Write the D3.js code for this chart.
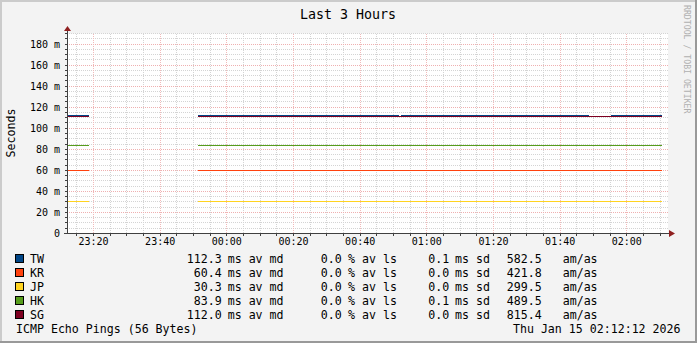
<!DOCTYPE html>
<html>
<head>
<meta charset="utf-8">
<script src="https://cdn.jsdelivr.net/npm/d3@7"></script>
<style>
  body { margin: 0; background: #f3f3f3; }
  svg { display: block; }
  text { font-family: "DejaVu Sans Mono", monospace; fill: #000; }
</style>
</head>
<body>
<script>
// hosts and legend values
var hosts = ["TW", "KR", "JP", "HK", "SG"];
var colors = ["#004586", "#ff420e", "#ffd320", "#579d1c", "#7e0021"];
var medians = [112.3, 60.4, 30.3, 83.9, 112.0];
var losses = [0.0, 0.0, 0.0, 0.0, 0.0];
var stddevs = [0.1, 0.0, 0.0, 0.1, 0.0];
var amas = [582.5, 421.8, 299.5, 489.5, 815.4];

// step boundaries (each value holds from times[i] to times[i+1])
var times = [
  "2026-01-14 23:12:12",
  "2026-01-14 23:18:43",
  "2026-01-14 23:51:30",
  "2026-01-15 00:51:48",
  "2026-01-15 00:52:24",
  "2026-01-15 01:48:48",
  "2026-01-15 01:55:24",
  "2026-01-15 02:10:36"
];
var seriesTW = [112.2, null, 112.2, null, 112.2, null, 112.2];
var seriesKR = [59.9, null, 59.9, 59.9, 59.9, 59.9, 59.9];
var seriesJP = [30.4, null, 30.4, 30.4, 30.4, 30.4, 30.4];
var seriesHK = [83.6, null, 83.6, 83.6, 83.6, 83.6, 83.6];
var seriesSG = [111.4, null, 111.4, 111.4, 111.4, 111.4, 111.4];
var series = [seriesTW, seriesKR, seriesJP, seriesHK, seriesSG];

// axis ticks
var xTickTimes = ["2026-01-14 23:20", "2026-01-14 23:40", "2026-01-15 00:00", "2026-01-15 00:20",
  "2026-01-15 00:40", "2026-01-15 01:00", "2026-01-15 01:20", "2026-01-15 01:40", "2026-01-15 02:00"];
var xTickLabels = ["23:20", "23:40", "00:00", "00:20", "00:40", "01:00", "01:20", "01:40", "02:00"];
var yTicks = [0, 20, 40, 60, 80, 100, 120, 140, 160, 180];
var yTickLabels = ["0", "20 m", "40 m", "60 m", "80 m", "100 m", "120 m", "140 m", "160 m", "180 m"];
var startTime = "2026-01-14 23:12:12", endTime = "2026-01-15 02:12:12";

var W = 697, H = 343;
var parse = d3.timeParse("%Y-%m-%d %H:%M:%S");
var parseMin = d3.timeParse("%Y-%m-%d %H:%M");

var x = d3.scaleTime()
  .domain([parse(startTime), parse(endTime)])
  .range([67, 667]);
var y = d3.scaleLinear()
  .domain([0, 190])
  .range([233.5, 33.5]);

var svg = d3.select("body").append("svg")
  .attr("width", W)
  .attr("height", H);

// background + 3d frame
svg.append("rect").attr("width", W).attr("height", H).attr("fill", "#f3f3f3");
svg.append("path").attr("d", "M0,0H697V2H2V343H0Z").attr("fill", "#cbcbcb");
svg.append("path").attr("d", "M697,0V343H0V341H695V0Z").attr("fill", "#999999");

// canvas
svg.append("rect")
  .attr("x", x.range()[0]).attr("y", y(190))
  .attr("width", x.range()[1] - x.range()[0] + 1)
  .attr("height", y(0) - y(190))
  .attr("fill", "#ffffff");

var grid = svg.append("g").attr("shape-rendering", "crispEdges");

// minor grid
var minorY = d3.range(5, 191, 5).filter(function(v) { return v % 20 != 0; });
grid.selectAll(".hminor").data(minorY).enter().append("line")
  .attr("x1", 67).attr("x2", 668)
  .attr("y1", function(d) { return y(d); }).attr("y2", function(d) { return y(d); })
  .attr("stroke", "#d4d4d4").attr("stroke-dasharray", "1,1");
var minorX = d3.timeMinute.every(5).range(parse(startTime), parse(endTime))
  .filter(function(d) { return d.getMinutes() % 20 != 0; });
grid.selectAll(".vminor").data(minorX).enter().append("line")
  .attr("x1", function(d) { return x(d) + 0.5; }).attr("x2", function(d) { return x(d) + 0.5; })
  .attr("y1", y(190)).attr("y2", y(0))
  .attr("stroke", "#d4d4d4").attr("stroke-dasharray", "1,1");

// major grid
grid.selectAll(".hmajor").data(yTicks.slice(1)).enter().append("line")
  .attr("x1", 67).attr("x2", 668)
  .attr("y1", function(d) { return y(d); }).attr("y2", function(d) { return y(d); })
  .attr("stroke", "#efb0b0").attr("stroke-dasharray", "1,1");
grid.selectAll(".vmajor").data(xTickTimes).enter().append("line")
  .attr("x1", function(d) { return x(parseMin(d)) + 0.5; }).attr("x2", function(d) { return x(parseMin(d)) + 0.5; })
  .attr("y1", y(190)).attr("y2", y(0))
  .attr("stroke", "#f1baba").attr("stroke-dasharray", "1,1");

// data lines
var line = d3.line()
  .x(function(d) { return x(d.t); })
  .y(function(d) { return y(d.v); });

var lines = svg.append("g").attr("shape-rendering", "crispEdges");
series.forEach(function(vals, k) {
  vals.forEach(function(v, i) {
    if (v == null) return;
    var seg = [{t: parse(times[i]), v: v}, {t: parse(times[i + 1]), v: v}];
    lines.append("path")
      .attr("d", line(seg))
      .attr("fill", "none")
      .attr("stroke", colors[k])
      .attr("stroke-width", 1);
  });
});

// axes
var axis = svg.append("g").attr("shape-rendering", "crispEdges").attr("stroke", "#404040");
axis.append("line").attr("x1", 67.5).attr("x2", 67.5).attr("y1", y(0)).attr("y2", 30);
axis.append("line").attr("x1", 64).attr("x2", 670).attr("y1", y(0)).attr("y2", y(0));
// small tick marks
axis.selectAll(".yt").data(d3.range(0, 191, 5)).enter().append("line")
  .attr("x1", 65).attr("x2", 67)
  .attr("y1", function(d) { return y(d); }).attr("y2", function(d) { return y(d); });
axis.selectAll(".xt").data(d3.timeMinute.every(5).range(parse(startTime), parse(endTime))).enter().append("line")
  .attr("x1", function(d) { return x(d) + 0.5; }).attr("x2", function(d) { return x(d) + 0.5; })
  .attr("y1", 234).attr("y2", 236);

// arrows
svg.append("path").attr("d", "M64,31L71,31L67.5,26Z").attr("fill", "#8f1f1f");
svg.append("path").attr("d", "M669,230L669,237L675,233.5Z").attr("fill", "#8f1f1f");

// tick labels
svg.selectAll(".ylab").data(yTicks).enter().append("text")
  .attr("x", 60)
  .attr("y", function(d) { return y(d) + 3.5; })
  .attr("text-anchor", "end")
  .attr("font-size", "10px")
  .text(function(d, i) { return yTickLabels[i]; });

svg.selectAll(".xlab").data(xTickTimes).enter().append("text")
  .attr("x", function(d) { return x(parseMin(d)) + 0.5; })
  .attr("y", 245)
  .attr("text-anchor", "middle")
  .attr("font-size", "10px")
  .text(function(d, i) { return xTickLabels[i]; });

// title and axis label
svg.append("text")
  .attr("x", 348).attr("y", 18.5)
  .attr("text-anchor", "middle")
  .attr("font-size", "13.3px")
  .text("Last 3 Hours");

svg.append("text")
  .attr("transform", "translate(15,133) rotate(-90)")
  .attr("text-anchor", "middle")
  .attr("font-size", "11.6px")
  .text("Seconds");

svg.append("text")
  .attr("transform", "translate(683.5,5) rotate(90)")
  .attr("font-size", "8.2px")
  .style("fill", "#b0b0b0")
  .text("RRDTOOL / TOBI OETIKER");

// legend
var fmt = d3.format(".1f");
var rowY = function(i) { return 263.3 + i * 14; };
var leg = svg.append("g").attr("font-size", "11.6px");
hosts.forEach(function(h, i) {
  leg.append("rect")
    .attr("x", 15.5).attr("y", rowY(i) - 8.8)
    .attr("width", 8).attr("height", 8)
    .attr("fill", colors[i]).attr("stroke", "#000").attr("shape-rendering", "crispEdges");
  leg.append("text").attr("x", 30).attr("y", rowY(i)).text(h);
  leg.append("text").attr("x", 221.7).attr("y", rowY(i)).attr("text-anchor", "end").text(fmt(medians[i]));
  leg.append("text").attr("x", 227.7).attr("y", rowY(i)).text("ms av md");
  leg.append("text").attr("x", 341.7).attr("y", rowY(i)).attr("text-anchor", "end").text(fmt(losses[i]));
  leg.append("text").attr("x", 348).attr("y", rowY(i)).text("% av ls");
  leg.append("text").attr("x", 449.3).attr("y", rowY(i)).attr("text-anchor", "end").text(fmt(stddevs[i]));
  leg.append("text").attr("x", 455).attr("y", rowY(i)).text("ms sd");
  leg.append("text").attr("x", 541.7).attr("y", rowY(i)).attr("text-anchor", "end").text(fmt(amas[i]));
  leg.append("text").attr("x", 562.7).attr("y", rowY(i)).text("am/as");
});
leg.append("text").attr("x", 16).attr("y", 333.3).text("ICMP Echo Pings (56 Bytes)");
leg.append("text").attr("x", 680.5).attr("y", 333.3).attr("text-anchor", "end").text("Thu Jan 15 02:12:12 2026");
</script>
</body>
</html>
